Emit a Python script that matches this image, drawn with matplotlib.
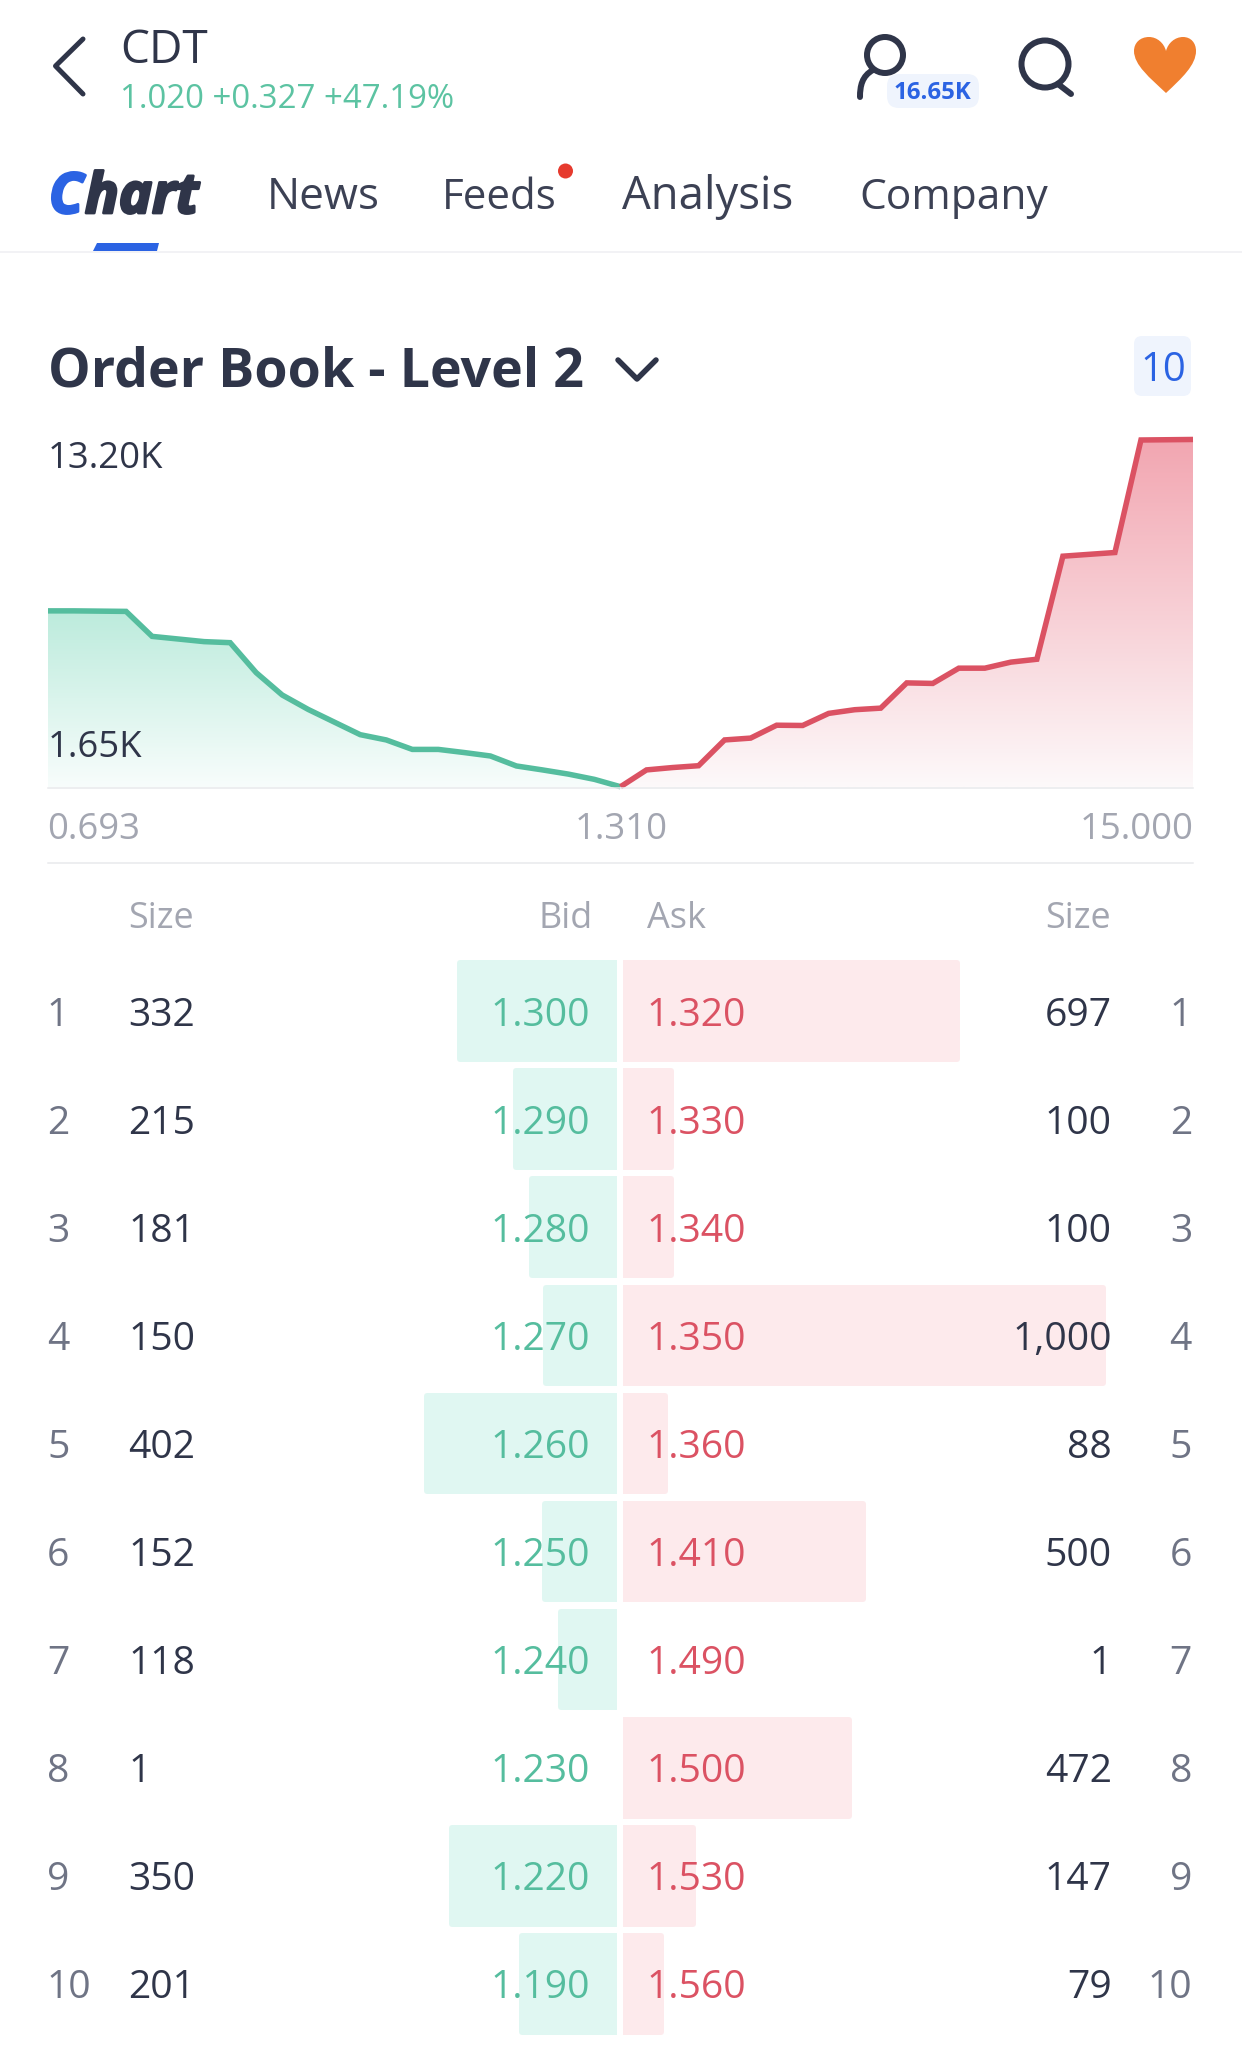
import matplotlib
matplotlib.use('Agg')
import matplotlib.pyplot as plt
import matplotlib.patheffects as pe
import numpy as np
from matplotlib.colors import LinearSegmentedColormap
from matplotlib.patches import Circle, FancyBboxPatch, PathPatch, Polygon
from matplotlib.path import Path

plt.rcParams['font.family'] = ['Open Sans', 'DejaVu Sans']

# depth curve, thousands
bid_depth = [6.70, 6.70, 6.69, 6.68, 5.73, 5.63, 5.53, 5.49, 4.35, 3.50, 2.95, 2.47,
             1.99, 1.79, 1.43, 1.43, 1.31, 1.18, 0.80, 0.65, 0.49, 0.29, 0.01]
ask_depth = [0.01, 0.65, 0.74, 0.81, 1.79, 1.86, 2.35, 2.34, 2.80, 2.94, 3.00, 3.96,
             3.94, 4.52, 4.52, 4.75, 4.86, 8.78, 8.85, 8.92, 13.20, 13.21, 13.22]

# order book
ranks = [1, 2, 3, 4, 5, 6, 7, 8, 9, 10]
bid_size = [332, 215, 181, 150, 402, 152, 118, 1, 350, 201]
bid_price = ['1.300', '1.290', '1.280', '1.270', '1.260', '1.250', '1.240', '1.230', '1.220', '1.190']
ask_price = ['1.320', '1.330', '1.340', '1.350', '1.360', '1.410', '1.490', '1.500', '1.530', '1.560']
ask_size = [697, 100, 100, 1000, 88, 500, 1, 472, 147, 79]

W, H = 1242, 2062
DARK = '#2F3549'
GREEN = '#55BD9E'
RED = '#DB5263'
BLUE = '#2B63E3'
GREY = '#A3A6B1'
RANK = '#6F7485'
LINE = '#E8E9EC'
TAB = '#3C4154'


def px(n):
    return n * 0.72


def axes_at(x0, y0, x1, y1, **kw):
    return fig.add_axes([x0 / W, 1 - y1 / H, (x1 - x0) / W, (y1 - y0) / H], **kw)


fig = plt.figure(figsize=(W / 100, H / 100), dpi=100, facecolor='white')

# depth chart
ax = axes_at(48, 440, 1193, 787)
ax.axis('off')
x_bid = np.arange(len(bid_depth))
x_ask = np.arange(len(ask_depth)) + len(bid_depth) - 1
for xs, ys, top, bottom, col in [(x_bid, bid_depth, '#BCEBDC', '#F8FDFC', GREEN),
                                 (x_ask, ask_depth, '#F2A6B1', '#FDF9FA', RED)]:
    cmap = LinearSegmentedColormap.from_list('g', [bottom, top])
    grad = np.linspace(1, 0, 256).reshape(-1, 1)
    im = ax.imshow(grad, cmap=cmap, aspect='auto', vmin=0, vmax=1,
                   extent=(xs[0], xs[-1], 0, max(ys)), zorder=1)
    poly = ax.fill_between(xs, ys, 0, color='none')
    im.set_clip_path(poly.get_paths()[0], transform=ax.transData)
    ax.plot(xs, ys, color=col, lw=px(5.5), solid_joinstyle='miter', solid_capstyle='butt',
            clip_on=False, zorder=3)
ax.set_xlim(0, 44)
ax.set_ylim(0, 13.2)

# size bars, one axes per side
BID_SCALE = 0.472
ASK_SCALE = 0.4795
ax_bid = axes_at(617 - BID_SCALE * 1000, 957, 617, 2038)
ax_ask = axes_at(623, 957, 623 + ASK_SCALE * 1000 + 20, 2038)
for a, sizes, col in [(ax_bid, bid_size, '#E0F7F2'), (ax_ask, ask_size, '#FDEAEC')]:
    bars = a.barh(np.arange(10), sizes, height=0.885, color=col, edgecolor=col, linewidth=px(6))
    for b, s in zip(bars, sizes):
        b.set_joinstyle('round')
        if s < 10:
            b.set_visible(False)
    a.set_ylim(9.5, -0.5)
    a.axis('off')
ax_bid.set_xlim(1000, 0)
ax_ask.set_xlim(0, 1000 + 20 / ASK_SCALE)

# everything else in pixels
ui = fig.add_axes([0, 0, 1, 1], zorder=5)
ui.set_xlim(0, W)
ui.set_ylim(H, 0)
ui.axis('off')
ui.patch.set_alpha(0)


def label(x, y, s, size, color=DARK, ha='left', **kw):
    return ui.text(x, y, s, fontsize=px(size), color=color, ha=ha, va='baseline', **kw)


def stroke(xs, ys, color=DARK, lw=5):
    ui.plot(xs, ys, color=color, lw=px(lw), solid_capstyle='round', solid_joinstyle='round')


# top bar
stroke([83, 55.5, 83], [39, 66, 94])
label(120, 62.7, 'CDT', 46)
label(120, 108.5, '1.020 +0.327 +47.19%', 33, color='#5CC3A2')

ui.add_patch(Circle((885, 55), 18, fill=False, ec=DARK, lw=px(6)))
ui.add_patch(PathPatch(Path([(873, 70), (862, 76), (860, 86), (860, 97)],
                            [Path.MOVETO, Path.CURVE4, Path.CURVE4, Path.CURVE4]),
                       fill=False, ec=DARK, lw=px(6), capstyle='round'))
ui.add_patch(FancyBboxPatch((892, 79), 82, 24, boxstyle='round,pad=5,rounding_size=12',
                            fc='#EFF4FD', ec='none', zorder=3))
label(932, 99.3, '16.65K', 24, color=BLUE, ha='center', fontweight='bold', zorder=4)

ui.add_patch(Circle((1045, 64), 23.5, fill=False, ec=DARK, lw=px(6)))
stroke([1058, 1071], [84, 94], lw=6)

heart = Path([(1166, 93), (1150, 78), (1134, 65), (1134, 51),
              (1134, 43), (1140, 37), (1149, 37),
              (1157, 37), (1164, 43), (1166, 51),
              (1168, 43), (1175, 37), (1183, 37),
              (1191, 37), (1196, 43), (1196, 51),
              (1196, 65), (1182, 78), (1166, 93)],
             [Path.MOVETO] + [Path.CURVE4] * 18)
ui.add_patch(PathPatch(heart, fc='#F07F2F', ec='none'))

# tabs
fat = [pe.withStroke(linewidth=2, foreground=BLUE)]
label(49, 213, 'C', 56, color=BLUE, fontweight='bold', fontstyle='italic', path_effects=fat)
fat = [pe.withStroke(linewidth=2, foreground=DARK)]
label(85, 213, 'hart', 56, fontweight='bold', fontstyle='italic', path_effects=fat)
label(267, 209, 'News', 44, color=TAB)
label(442, 209, 'Feeds', 42, color=TAB)
label(622, 209, 'Analysis', 45.5, color=TAB)
label(859, 209, 'Company', 42.5, color=TAB)
ui.add_patch(Circle((565.5, 171), 7.5, fc='#E63A2E', ec='none'))
ui.add_patch(Polygon([(97, 243), (159, 243), (157, 251), (93, 251)], fc=BLUE, ec='none'))
ui.plot([0, W], [252, 252], color='#EEEFF2', lw=px(1.5))

# section title
label(48, 386.7, 'Order Book - Level 2', 53.7, fontweight='bold')
stroke([618, 637, 656], [360, 379, 360], lw=5.5)
ui.add_patch(FancyBboxPatch((1140, 342), 45, 48, boxstyle='round,pad=6,rounding_size=8',
                            fc='#EFF4FD', ec='none'))
label(1163, 380.7, '10', 40, color=BLUE, ha='center')

# depth labels
label(48, 468, '13.20K', 36.5)
label(48, 756.7, '1.65K', 36.5)
ui.plot([48, 1193], [788, 788], color=LINE, lw=px(1.5), zorder=0)
label(47, 839, '0.693', 36.5, color=GREY)
label(621, 839, '1.310', 36.5, color=GREY, ha='center')
label(1194, 839, '15.000', 36.5, color=GREY, ha='right')
ui.plot([48, 1193], [863, 863], color=LINE, lw=px(1.5))

# table
label(128, 927.7, 'Size', 36, color=GREY)
label(593, 927.7, 'Bid', 36, color=GREY, ha='right')
label(647, 927.7, 'Ask', 36, color=GREY)
label(1111, 927.7, 'Size', 36, color=GREY, ha='right')
for i, r in enumerate(ranks):
    base = 1012 + i * 107.9 + 14.5
    label(47, base, str(r), 39, color=RANK)
    label(128, base, str(bid_size[i]), 39)
    label(590, base, bid_price[i], 39, color=GREEN, ha='right')
    label(646, base, ask_price[i], 39, color=RED)
    label(1112, base, f'{ask_size[i]:,}', 39, ha='right')
    label(1192, base, str(r), 39, color=RANK, ha='right')

fig.savefig('out.png', dpi=100)
